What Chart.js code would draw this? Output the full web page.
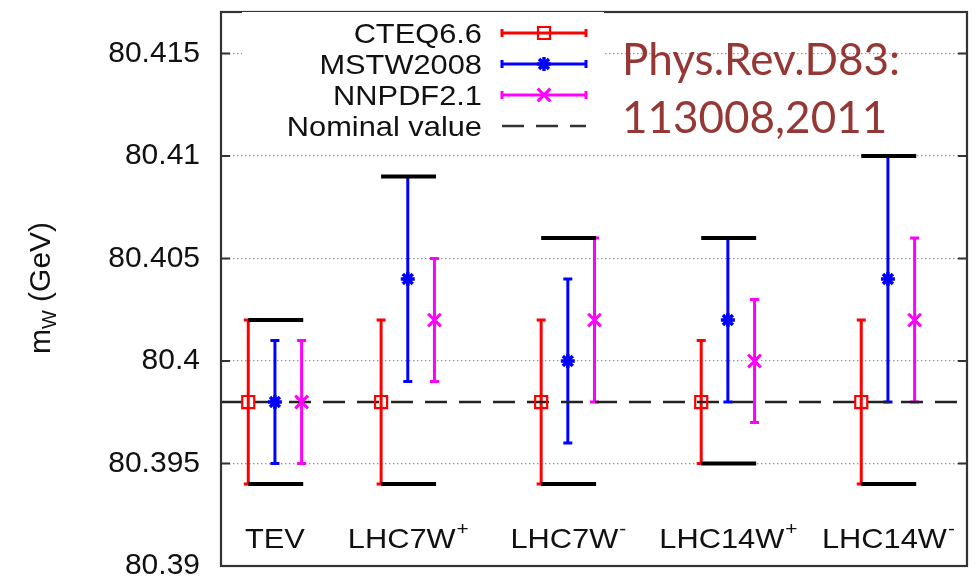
<!DOCTYPE html>
<html>
<head>
<meta charset="utf-8">
<script src="https://cdn.jsdelivr.net/npm/chart.js@4/dist/chart.umd.min.js"></script>
<style>
html, body { margin: 0; padding: 0; background: #fff; }
</style>
</head>
<body>
<canvas id="bieu-do" width="979" height="579"></canvas>
<script>
// cac nhom (nhan truc x) va vi tri
const tenNhom = ["TEV", "LHC7W", "LHC7W", "LHC14W", "LHC14W"];
const muNhom = ["", "+", "-", "+", "-"];
const viTriNhom = [1.17, 2, 3, 4, 5];

// CTEQ6.6
const cteqGiua = [80.398, 80.398, 80.398, 80.398, 80.398];
const cteqDuoi = [80.394, 80.394, 80.394, 80.395, 80.394];
const cteqTren = [80.402, 80.402, 80.402, 80.401, 80.402];

// MSTW2008
const mstwGiua = [80.398, 80.404, 80.400, 80.402, 80.404];
const mstwDuoi = [80.395, 80.399, 80.396, 80.398, 80.398];
const mstwTren = [80.401, 80.409, 80.404, 80.406, 80.410];

// NNPDF2.1
const nnGiua = [80.398, 80.402, 80.402, 80.400, 80.402];
const nnDuoi = [80.395, 80.399, 80.398, 80.397, 80.398];
const nnTren = [80.401, 80.405, 80.406, 80.403, 80.406];

// vach den bao ngoai
const baoTren = [80.402, 80.409, 80.406, 80.406, 80.410];
const baoDuoi = [80.394, 80.394, 80.394, 80.395, 80.394];

const giaTriDanhNghia = 80.398;
const vachY = [80.39, 80.395, 80.4, 80.405, 80.41, 80.415];

const lech = 1 / 6;
const xMin = 0.833, xMax = 5.494;
const gian = 1.1; // gian chu theo chieu ngang

const cacBo = [
    { ten: "CTEQ6.6", mau: "#ff0000", kieu: "rect", r: 8.5, w: 2.2, giua: cteqGiua, duoi: cteqDuoi, tren: cteqTren, dx: -lech },
    { ten: "MSTW2008", mau: "#0000ff", kieu: "star", r: 7, w: 3.5, giua: mstwGiua, duoi: mstwDuoi, tren: mstwTren, dx: 0 },
    { ten: "NNPDF2.1", mau: "#ff00ff", kieu: "crossRot", r: 9, w: 3, giua: nnGiua, duoi: nnDuoi, tren: nnTren, dx: lech }
];

function diemBo(bo) {
    return bo.giua.map((v, i) => ({ x: viTriNhom[i] + bo.dx, y: v }));
}

function diemBao(mang) {
    const kq = [];
    for (let i = 0; i < mang.length; i++) {
        kq.push({ x: viTriNhom[i] - lech, y: mang[i] });
        kq.push({ x: viTriNhom[i] + lech + 0.01, y: mang[i] });
        kq.push({ x: viTriNhom[i], y: null });
    }
    return kq;
}

// ve marker cho chu thich
function veMarker(ctx, kieu, x, y, r, mau, w) {
    ctx.save();
    ctx.strokeStyle = mau;
    ctx.lineWidth = w;
    ctx.beginPath();
    if (kieu === "rect") {
        const s = r * Math.SQRT1_2;
        ctx.rect(x - s, y - s, 2 * s, 2 * s);
    } else {
        const d = r * Math.SQRT1_2;
        ctx.moveTo(x - d, y - d); ctx.lineTo(x + d, y + d);
        ctx.moveTo(x - d, y + d); ctx.lineTo(x + d, y - d);
        if (kieu === "star") {
            ctx.moveTo(x - r, y); ctx.lineTo(x + r, y);
            ctx.moveTo(x, y - r); ctx.lineTo(x, y + r);
        }
    }
    ctx.stroke();
    ctx.restore();
}

// chu gian ngang
function vietGian(ctx, chu, x, y, canh) {
    const w = ctx.measureText(chu).width * gian;
    let x0 = x;
    if (canh === "right") x0 = x - w;
    if (canh === "center") x0 = x - w / 2;
    ctx.save();
    ctx.translate(x0, y);
    ctx.scale(gian, 1);
    ctx.textAlign = "left";
    ctx.fillText(chu, 0, 0);
    ctx.restore();
    return w;
}

const veThem = {
    id: "veThem",
    beforeDatasetsDraw(chart) {
        const ctx = chart.ctx;
        const sx = chart.scales.x, sy = chart.scales.y;
        ctx.save();
        cacBo.forEach(bo => {
            ctx.strokeStyle = bo.mau;
            for (let i = 0; i < bo.giua.length; i++) {
                const px = sx.getPixelForValue(viTriNhom[i] + bo.dx);
                const p1 = sy.getPixelForValue(bo.duoi[i]);
                const p2 = sy.getPixelForValue(bo.tren[i]);
                ctx.lineWidth = 3;
                ctx.beginPath();
                ctx.moveTo(px, p1); ctx.lineTo(px, p2);
                ctx.stroke();
                ctx.lineWidth = 3;
                ctx.beginPath();
                ctx.moveTo(px - 4.5, p1); ctx.lineTo(px + 4.5, p1);
                ctx.moveTo(px - 4.5, p2); ctx.lineTo(px + 4.5, p2);
                ctx.stroke();
            }
        });
        ctx.restore();
    },
    afterDraw(chart) {
        const ctx = chart.ctx;
        const a = chart.chartArea;
        const sx = chart.scales.x, sy = chart.scales.y;
        ctx.save();

        // khung va vach chia ben trong
        ctx.strokeStyle = "#333";
        ctx.lineWidth = 2;
        vachY.forEach(v => {
            const py = sy.getPixelForValue(v);
            ctx.beginPath();
            ctx.moveTo(a.left, py); ctx.lineTo(a.left + 9, py);
            ctx.moveTo(a.right, py); ctx.lineTo(a.right - 9, py);
            ctx.stroke();
        });
        ctx.strokeStyle = "#333";
        ctx.lineWidth = 2.2;
        ctx.strokeRect(a.left, a.top, a.right - a.left, a.bottom - a.top);

        // nhan nhom
        ctx.fillStyle = "#111";
        ctx.textBaseline = "alphabetic";
        for (let i = 0; i < tenNhom.length; i++) {
            ctx.font = "28px 'Liberation Sans'";
            const w1 = ctx.measureText(tenNhom[i]).width * gian;
            ctx.font = "19px 'Liberation Sans'";
            const w2 = muNhom[i] ? ctx.measureText(muNhom[i]).width * gian : 0;
            const x0 = sx.getPixelForValue(viTriNhom[i]) - (w1 + w2) / 2;
            ctx.font = "28px 'Liberation Sans'";
            vietGian(ctx, tenNhom[i], x0, 548, "left");
            if (muNhom[i]) {
                ctx.font = "19px 'Liberation Sans'";
                vietGian(ctx, muNhom[i], x0 + w1 + 1, 535, "left");
            }
        }

        // chu thich
        ctx.fillStyle = "#fff";
        ctx.fillRect(242, 12, 362, 132);
        const hang = [33, 64, 95, 126];
        ctx.font = "28px 'Liberation Sans'";
        ctx.fillStyle = "#111";
        cacBo.forEach((bo, k) => {
            const y = hang[k];
            vietGian(ctx, bo.ten, 482, y + 10, "right");
            ctx.strokeStyle = bo.mau;
            ctx.lineWidth = 3;
            ctx.beginPath();
            ctx.moveTo(502, y); ctx.lineTo(586, y);
            ctx.moveTo(502, y - 4); ctx.lineTo(502, y + 4);
            ctx.moveTo(586, y - 4); ctx.lineTo(586, y + 4);
            ctx.stroke();
            veMarker(ctx, bo.kieu, 544, y, bo.r, bo.mau, bo.w);
        });
        vietGian(ctx, "Nominal value", 482, hang[3] + 10, "right");
        ctx.strokeStyle = "#333";
        ctx.lineWidth = 2.5;
        ctx.setLineDash([22, 12]);
        ctx.beginPath();
        ctx.moveTo(502, hang[3]); ctx.lineTo(586, hang[3]);
        ctx.stroke();
        ctx.setLineDash([]);

        // tieu de truc y: m_W (GeV)
        ctx.translate(50, 288);
        ctx.rotate(-Math.PI / 2);
        ctx.textAlign = "left";
        ctx.font = "30px 'Liberation Sans'";
        const wm = ctx.measureText("m").width;
        const wg = ctx.measureText(" (GeV)").width;
        ctx.font = "20px 'Liberation Sans'";
        const ww = ctx.measureText("W").width;
        const xy = -(wm + ww + wg) / 2;
        ctx.font = "30px 'Liberation Sans'";
        ctx.fillText("m", xy, 0);
        ctx.font = "20px 'Liberation Sans'";
        ctx.fillText("W", xy + wm, 6);
        ctx.font = "30px 'Liberation Sans'";
        ctx.fillText(" (GeV)", xy + wm + ww, 0);
        ctx.setTransform(1, 0, 0, 1, 0, 0);

        // trich dan
        ctx.fillStyle = "#953735";
        ctx.font = "44px Lato";
        ctx.textAlign = "left";
        ctx.fillText("Phys.Rev.D83:", 622, 75);
        ctx.fillText("113008,2011", 622, 133);

        ctx.restore();
    }
};

const datasets = cacBo.map(bo => ({
    label: bo.ten,
    type: "scatter",
    data: diemBo(bo),
    pointStyle: bo.kieu,
    pointRadius: bo.r,
    pointBorderWidth: bo.w,
    borderColor: bo.mau,
    pointBorderColor: bo.mau,
    backgroundColor: "transparent",
    pointBackgroundColor: "transparent"
}));

datasets.push({
    label: "bao tren",
    type: "line",
    data: diemBao(baoTren),
    borderColor: "#000",
    borderWidth: 4,
    pointRadius: 0,
    spanGaps: false
});
datasets.push({
    label: "bao duoi",
    type: "line",
    data: diemBao(baoDuoi),
    borderColor: "#000",
    borderWidth: 4,
    pointRadius: 0,
    spanGaps: false
});
datasets.push({
    label: "Nominal value",
    type: "line",
    data: [{ x: xMin, y: giaTriDanhNghia }, { x: xMax, y: giaTriDanhNghia }],
    borderColor: "#222",
    borderWidth: 2.5,
    borderDash: [22, 12],
    pointRadius: 0
});

new Chart(document.getElementById("bieu-do"), {
    type: "scatter",
    data: { datasets: datasets },
    options: {
        responsive: false,
        animation: false,
        layout: { padding: { top: 8, right: 3, bottom: 13, left: 0 } },
        plugins: { legend: { display: false }, tooltip: { enabled: false } },
        scales: {
            x: { type: "linear", min: xMin, max: xMax, display: false },
            y: {
                min: 80.39,
                max: 80.41703,
                afterBuildTicks: s => { s.ticks = vachY.map(v => ({ value: v })); },
                afterFit: s => { s.width = 221; s.paddingTop = 0; s.paddingBottom = 0; },
                ticks: {
                    font: { family: "'Liberation Sans'", size: 30 },
                    color: "#111",
                    padding: 21,
                    callback: v => String(+Number(v).toFixed(3))
                },
                grid: { drawTicks: false, color: "#999", lineWidth: 1.2 },
                border: { display: false, dash: [1.5, 2.5] }
            }
        }
    },
    plugins: [veThem]
});
</script>
</body>
</html>
